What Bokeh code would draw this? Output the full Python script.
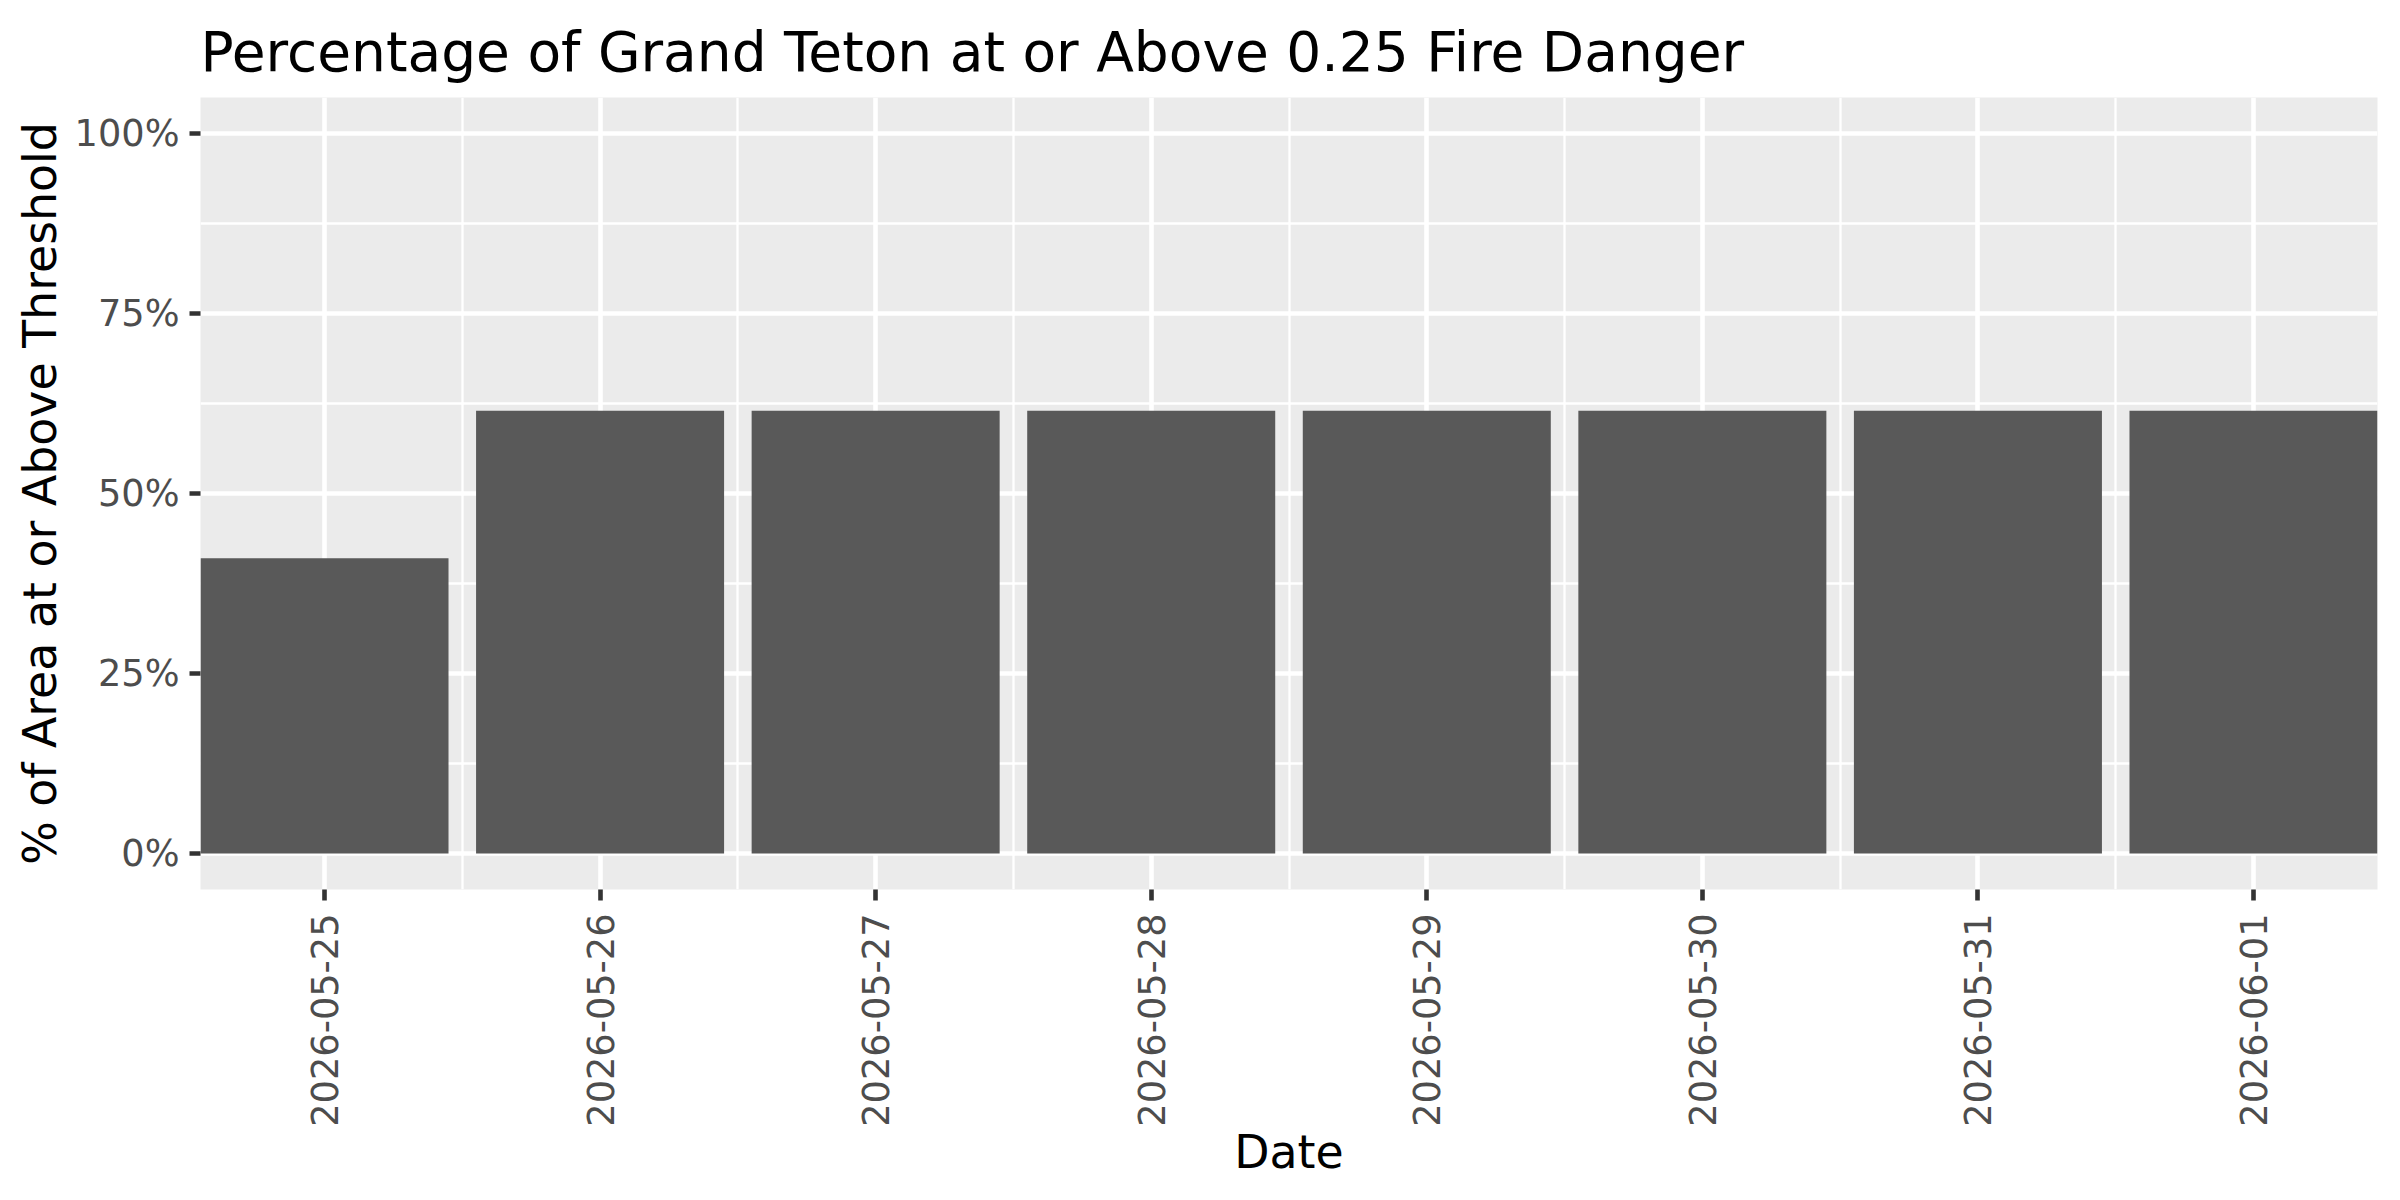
import math
import pandas as pd
from bokeh.plotting import figure
from bokeh.models import Range1d, FixedTicker, NumeralTickFormatter, DatetimeTickFormatter, ColumnDataSource
from bokeh.embed import file_html
from bokeh.resources import INLINE

# ---- data ----
dates = ["2026-05-25", "2026-05-26", "2026-05-27", "2026-05-28",
         "2026-05-29", "2026-05-30", "2026-05-31", "2026-06-01"]
pct_above = [0.41, 0.615, 0.615, 0.615, 0.615, 0.615, 0.615, 0.615]
y_ticks = [0.0, 0.25, 0.5, 0.75, 1.0]
y_minor = [0.125, 0.375, 0.625, 0.875]
title_text = "Percentage of Grand Teton at or Above 0.25 Fire Danger"
x_title = "Date"
y_title = "% of Area at or Above Threshold"

DAY = 86400000.0
dt = pd.to_datetime(dates)
ms = [float(v) for v in (dt.astype("int64") // 10**6)]
mid = [(a + b) / 2 for a, b in zip(ms[:-1], ms[1:])]

src = ColumnDataSource(dict(x=dt, top=pct_above))

FONT = "DejaVu Sans"
p = figure(width=2384, height=1184, x_axis_type="datetime",
           output_backend="svg", toolbar_location=None,
           x_range=Range1d(ms[0] - 0.45 * DAY, ms[-1] + 0.45 * DAY),
           y_range=Range1d(-0.05, 1.05),
           min_border_left=200, min_border_right=7, min_border_top=97, min_border_bottom=295)

p.vbar(x="x", top="top", bottom=0, width=0.9 * DAY, source=src,
       fill_color="#595959", line_color=None)

p.title.text = title_text
p.title.text_font = FONT
p.title.text_font_size = "55px"
p.title.text_font_style = "normal"
p.title.text_color = "#000000"
p.title.align = "left"
p.title.offset = 0
p.title.standoff = 28

p.background_fill_color = "#EBEBEB"
p.border_fill_color = "#FFFFFF"
p.outline_line_color = None

# x axis
p.xaxis.ticker = FixedTicker(ticks=ms, minor_ticks=mid)
fmt = "%Y-%m-%d"
p.xaxis.formatter = DatetimeTickFormatter(milliseconds=fmt, seconds=fmt, minsec=fmt, minutes=fmt,
                                          hourmin=fmt, hours=fmt, days=fmt, months=fmt, years=fmt)
p.xaxis.major_label_orientation = math.pi / 2
p.xaxis.axis_label = x_title

# y axis
p.yaxis.ticker = FixedTicker(ticks=y_ticks, minor_ticks=y_minor)
p.yaxis.formatter = NumeralTickFormatter(format="0%")
p.yaxis.axis_label = y_title

for ax in (p.xaxis[0], p.yaxis[0]):
    ax.axis_line_color = None
    ax.major_tick_line_color = "#333333"
    ax.major_tick_line_width = 4.6
    ax.major_tick_out = 11
    ax.major_tick_in = 0
    ax.minor_tick_line_color = None
    ax.major_label_text_font = FONT
    ax.major_label_text_font_size = "36.7px"
    ax.major_label_text_color = "#4D4D4D"
    ax.major_label_standoff = 10
    ax.axis_label_text_font = FONT
    ax.axis_label_text_font_size = "45.8px"
    ax.axis_label_text_font_style = "normal"
    ax.axis_label_text_color = "#000000"

p.xaxis.major_label_standoff = 13
p.xaxis.axis_label_standoff = -5
p.yaxis.axis_label_standoff = 5

for g in (p.xgrid[0], p.ygrid[0]):
    g.grid_line_color = "#FFFFFF"
    g.grid_line_width = 4.6
    g.minor_grid_line_color = "#FFFFFF"
    g.minor_grid_line_width = 2.3

open("out.html", "w").write(file_html(p, INLINE))
